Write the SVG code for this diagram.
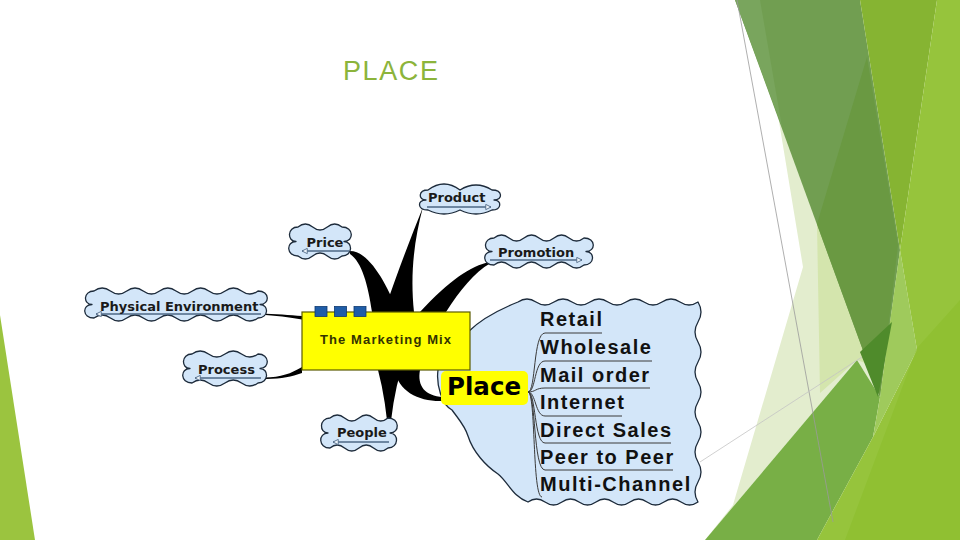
<svg xmlns="http://www.w3.org/2000/svg" width="960" height="540" viewBox="0 0 960 540">
<defs>
<style>
.cloud{fill:#d3e6f9;stroke:#1d2b3b;stroke-width:1.3;stroke-linejoin:round}
.ul{stroke:#4d6785;stroke-width:1.3;fill:none}
.lbl{font-family:"DejaVu Sans",sans-serif;font-weight:bold;font-size:13px;fill:#1a1a1a}
.item{font-family:"Liberation Sans",Arial,sans-serif;font-weight:bold;font-size:20px;letter-spacing:1.5px;fill:#111}
.fan{stroke:#3a3a3a;stroke-width:1;fill:none}
.br{fill:#000}
.sq{fill:#1f5da8;stroke:#0e3a70;stroke-width:0.8}
</style>
<marker id="tri" viewBox="0 0 8 8" refX="7" refY="4" markerWidth="7" markerHeight="7" markerUnits="userSpaceOnUse" orient="auto-start-reverse">
<path d="M1,1 L7,4 L1,7 z" fill="#eef5fc" stroke="#4d6785" stroke-width="1"/>
</marker>
</defs>
<rect width="960" height="540" fill="#ffffff"/>
<g id="background">
<polygon points="0,315 35,540 0,540" fill="#9bc43f"/>
<polygon points="759,0 803,267 733,505 705,540 857,360 880,397 860,0" fill="#e3edce"/>
<polygon points="817,224 870,365 857,360 820,393" fill="#d4e5ad"/>
<polygon points="735,0 860,0 900,250 880,397" fill="#719e51"/>
<polygon points="735,0 760,0 782,127" fill="#79a55d"/>
<polygon points="867,57 898,245 880,397 817,224" fill="#6a9942"/>
<polygon points="860,0 937,0 900,250" fill="#86b432"/>
<polygon points="705,540 857,360 880,397 873,437 817,540" fill="#78af46"/>
<polygon points="900,250 917,350 873,437 880,397 890,322" fill="#9fca5c"/>
<polygon points="937,0 960,0 960,540 817,540 873,437 917,350 900,250" fill="#96c43c"/>
<polygon points="917,348 960,300 960,540 845,540" fill="#8dbf2d" opacity="0.7"/>
<polygon points="860,352 892,322 878,397" fill="#4f8b2b"/>
<line x1="737" y1="0" x2="833" y2="522" stroke="#9a9a9a" stroke-width="0.8"/>
<line x1="700" y1="462" x2="862" y2="357" stroke="#c4c4c4" stroke-width="0.8"/>
</g>
<text x="343" y="79.5" font-family="Liberation Sans, Arial, sans-serif" font-size="27" letter-spacing="1.6" fill="#8cb43b">PLACE</text>
<g id="node-channels">
<path class="cloud" d="M518,302 q9,-6 18,0 t18,0 t18,0 t18,0 t18,0 t18,0 t18,0 t18,0 t18,0 t18,0 q6,10 0,20 t0,20 t0,20 t0,20 t0,20 t0,20 t0,20 t0,20 t0,20 t0,20 q-8.5,6 -17,0 t-17,0 t-17,0 t-17,0 t-17,0 t-17,0 t-17,0 t-17,0 t-17,0 t-17,0 c-15,-5 -20,-20 -30,-28 c-12,-8 -25,-22 -30,-38 c-3,-10 -8,-15 -16,-26 c-10,-5 -16,-25 -14,-40 c5,-20 20,-28 30,-38 c10,-10 25,-20 50,-30 z"/>
<text class="item" x="540" y="326">Retail</text>
<text class="item" x="540" y="354">Wholesale</text>
<text class="item" x="540" y="382">Mail order</text>
<text class="item" x="540" y="409">Internet</text>
<text class="item" x="540" y="437">Direct Sales</text>
<text class="item" x="540" y="464">Peer to Peer</text>
<text class="item" x="540" y="491">Multi-Channel</text>
</g>
<g id="connectors">
<path class="br" d="M350,251 C368,251 385,280 398,312 L372,312 C368,285 362,262 350,254 Z"/>
<path class="br" d="M423,207 C414,240 410,275 414,312 L384,312 C398,270 412,235 423,207 Z"/>
<path class="br" d="M490,262 C470,266 450,280 420,312 L446,312 C460,290 475,272 490,263.5 Z"/>
<path class="br" d="M378,370 L401,370 Q392,400 389,442 Q386,400 378,370 Z"/>
<path class="br" d="M395,370 C398,392 420,402 443,401 L443,397 C425,396 417,386 420,370 Z"/>
<path class="br" d="M260,313.5 C275,314 290,315 302,316 L302,319.5 C290,317.5 275,315.5 260,314.8 Z"/>
<path class="br" d="M260,377.3 C280,378 290,374 302,367 L302,373 C290,377 280,379.5 260,378.8 Z"/>
<path class="fan" d="M528,392 C536,392 533,333 545,333 L602,333"/>
<path class="fan" d="M528,392 C536,392 534,361 545,361 L652,361"/>
<path class="fan" d="M528,392 C536,392 535,388 545,388 L650,388"/>
<path class="fan" d="M528,392 C536,392 535,416 545,416 L622,416"/>
<path class="fan" d="M528,392 C536,392 534,443 545,443 L671,443"/>
<path class="fan" d="M528,392 C536,392 533,470 545,470 L673,470"/>
<path class="fan" d="M528,392 C536,392 532,497 542,497"/>
</g>
<g id="node-product">
<path class="cloud" d="M428,190 q16,-12 32,0 q16,-10 32,0 c11,0 11,10 2,10 c8,0 8,10 -2,10 q-16,8 -32,0 q-16,8 -32,0 c-11,0 -11,-10 -2,-10 c-8,0 -8,-10 2,-10 z"/>
<line class="ul" x1="427" y1="207" x2="491" y2="207" marker-end="url(#tri)"/>
<text class="lbl" x="428" y="202">Product</text>
</g>
<g id="node-price">
<path class="cloud" d="M298,227 q7.33,-6 14.67,0 t14.67,0 t14.67,0 c12,0 12,14.5 2,14.5 c9,0 9,14.5 -2,14.5 q-7.33,6 -14.67,0 t-14.67,0 t-14.67,0 c-12,0 -12,-14.5 -2,-14.5 c-9,0 -9,-14.5 2,-14.5 z"/>
<line class="ul" x1="302" y1="251" x2="349" y2="251" marker-start="url(#tri)"/>
<text class="lbl" x="306.5" y="247">Price</text>
</g>
<g id="node-promotion">
<path class="cloud" d="M494,238 q7.5,-6 15,0 t15,0 t15,0 t15,0 t15,0 t15,0 c12,0 12,13.5 2,13.5 c9,0 9,13.5 -2,13.5 q-7.5,6 -15,0 t-15,0 t-15,0 t-15,0 t-15,0 t-15,0 c-12,0 -12,-13.5 -2,-13.5 c-9,0 -9,-13.5 2,-13.5 z"/>
<line class="ul" x1="490" y1="260" x2="582" y2="260" marker-end="url(#tri)"/>
<text class="lbl" x="498" y="257">Promotion</text>
</g>
<g id="node-physical-environment">
<path class="cloud" d="M94,291 q8.2,-6 16.4,0 t16.4,0 t16.4,0 t16.4,0 t16.4,0 t16.4,0 t16.4,0 t16.4,0 t16.4,0 t16.4,0 c12,0 12,13.5 2,13.5 c9,0 9,13.5 -2,13.5 q-8.2,6 -16.4,0 t-16.4,0 t-16.4,0 t-16.4,0 t-16.4,0 t-16.4,0 t-16.4,0 t-16.4,0 t-16.4,0 t-16.4,0 c-12,0 -12,-13.5 -2,-13.5 c-9,0 -9,-13.5 2,-13.5 z"/>
<line class="ul" x1="96" y1="314" x2="261" y2="314" marker-start="url(#tri)"/>
<text class="lbl" x="100" y="311">Physical Environment</text>
</g>
<g id="node-process">
<path class="cloud" d="M192,354 q8.25,-6 16.5,0 t16.5,0 t16.5,0 t16.5,0 c12,0 12,14.5 2,14.5 c9,0 9,14.5 -2,14.5 q-8.25,6 -16.5,0 t-16.5,0 t-16.5,0 t-16.5,0 c-12,0 -12,-14.5 -2,-14.5 c-9,0 -9,-14.5 2,-14.5 z"/>
<line class="ul" x1="195" y1="378" x2="261" y2="378" marker-start="url(#tri)"/>
<text class="lbl" x="198" y="374">Process</text>
</g>
<g id="node-people">
<path class="cloud" d="M330,418 q7.25,-6 14.5,0 t14.5,0 t14.5,0 t14.5,0 c12,0 12,15 2,15 c9,0 9,15 -2,15 q-7.25,6 -14.5,0 t-14.5,0 t-14.5,0 t-14.5,0 c-12,0 -12,-15 -2,-15 c-9,0 -9,-15 2,-15 z"/>
<line class="ul" x1="333" y1="442" x2="389" y2="442" marker-start="url(#tri)"/>
<text class="lbl" x="337" y="437">People</text>
</g>
<g id="node-marketing-mix">
<rect x="302" y="312" width="168" height="58" fill="#ffff00" stroke="#5a5a00" stroke-width="1.2"/>
<rect class="sq" x="315" y="306.5" width="12" height="10"/>
<rect class="sq" x="334.5" y="306.5" width="12" height="10"/>
<rect class="sq" x="354" y="306.5" width="12" height="10"/>
<text x="320" y="344" font-family="Liberation Sans, Arial, sans-serif" font-weight="bold" font-size="13" letter-spacing="1.1" fill="#333300">The Marketing Mix</text>
</g>
<g id="node-place">
<rect x="441" y="371" width="87" height="34" rx="5" fill="#ffff00"/>
<text x="447" y="395" font-family="DejaVu Sans, sans-serif" font-weight="bold" font-size="24.5" fill="#000">Place</text>
</g>
</svg>
